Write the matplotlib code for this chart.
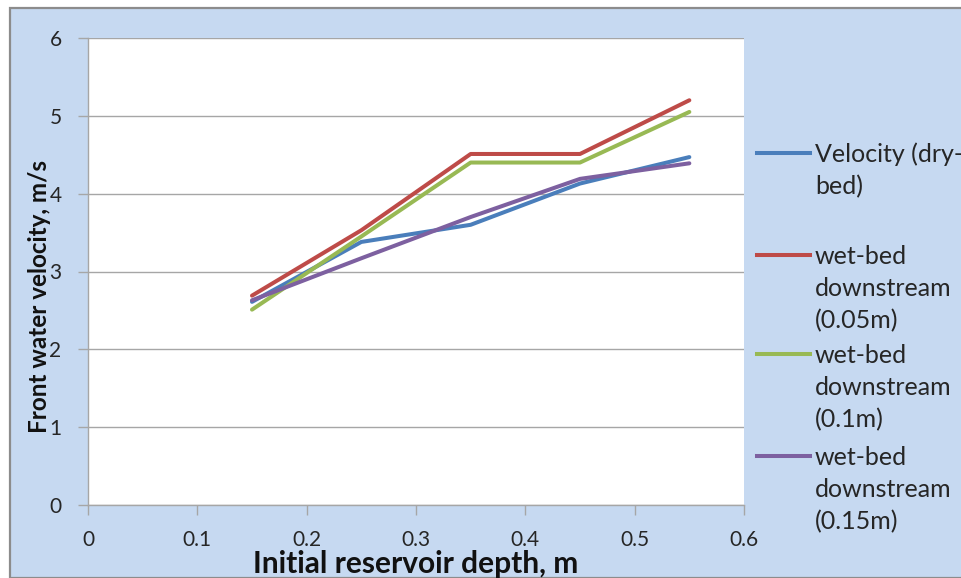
import matplotlib
matplotlib.use("Agg")
import matplotlib.pyplot as plt
from matplotlib.patches import Rectangle
from matplotlib.lines import Line2D

# Reservoir depths (m) and front water velocities (m/s)
depth = [0.15, 0.25, 0.35, 0.45, 0.55]
dry_bed = [2.61, 3.38, 3.60, 4.13, 4.47]
wet_005 = [2.69, 3.53, 4.51, 4.51, 5.20]
wet_010 = [2.51, 3.45, 4.40, 4.40, 5.05]
wet_015 = [2.63, 3.17, 3.70, 4.19, 4.39]

labels = ["Velocity (dry-\nbed)",
          "wet-bed\ndownstream\n(0.05m)",
          "wet-bed\ndownstream\n(0.1m)",
          "wet-bed\ndownstream\n(0.15m)"]
colors = ["#4a7ebb", "#be4b48", "#98b954", "#7d60a0"]
xticks = [0, 0.1, 0.2, 0.3, 0.4, 0.5, 0.6]
yticks = [0, 1, 2, 3, 4, 5, 6]

plt.rcParams["font.family"] = ["Lato", "DejaVu Sans"]

W, H = 962, 578
fig = plt.figure(figsize=(W / 100, H / 100), dpi=100)
fig.patch.set_facecolor("white")

# chart area panel
fig.add_artist(Rectangle((10 / W, 0), 1.0, 1 - 8 / H, transform=fig.transFigure,
                         facecolor="#c6d9f1", edgecolor="#8c8c8c", linewidth=1.6,
                         zorder=0))

ax = fig.add_axes([88 / W, 1 - 505 / H, (744 - 88) / W, (505 - 38) / H])
ax.set_facecolor("white")

series = [dry_bed, wet_005, wet_010, wet_015]
for vals, c in zip(series, colors):
    ax.plot(depth, vals, color=c, linewidth=2.9, solid_capstyle="round",
            solid_joinstyle="round", zorder=3)

ax.set_xlim(0, 0.6)
ax.set_ylim(0, 6)
ax.set_xticks(xticks)
ax.set_yticks(yticks)
ax.set_xticklabels([f"{t:g}" for t in xticks])
ax.set_yticklabels([f"{t:g}" for t in yticks])
ax.grid(axis="y", color="#a6a6a6", linewidth=1.0, zorder=1)
ax.set_axisbelow(True)
for s in ["top", "right"]:
    ax.spines[s].set_visible(False)
for s in ["left", "bottom"]:
    ax.spines[s].set_color("#a6a6a6")
    ax.spines[s].set_linewidth(1.0)
ax.tick_params(axis="both", direction="out", length=7, width=1.0, color="#a6a6a6",
               labelsize=15, labelcolor="#262626")
ax.tick_params(axis="y", pad=12)
ax.tick_params(axis="x", pad=11)

ax.set_xlabel("Initial reservoir depth, m", fontsize=21.5, fontweight="bold",
              color="#111111", labelpad=0)
ax.xaxis.set_label_coords(0.5, -(550 - 505) / 467)
ax.set_ylabel("Front water velocity, m/s", fontsize=17.5, fontweight="bold",
              color="#111111")
ax.yaxis.set_label_coords((51 - 88) / 656, (505 - 297) / 467)

# legend: line sample aligned with the first text line of each entry
entry_y = [153, 255, 354, 456]
line_step = 32
for lab, c, yl in zip(labels, colors, entry_y):
    fy = 1 - yl / H
    fig.add_artist(Line2D([757 / W, 810 / W], [fy, fy], transform=fig.transFigure,
                          color=c, linewidth=2.9))
    for i, part in enumerate(lab.split("\n")):
        fig.text(815 / W, 1 - (yl + 9 + i * line_step) / H, part, fontsize=18,
                 color="#262626", va="baseline", ha="left")

fig.savefig("out.png", dpi=100)
